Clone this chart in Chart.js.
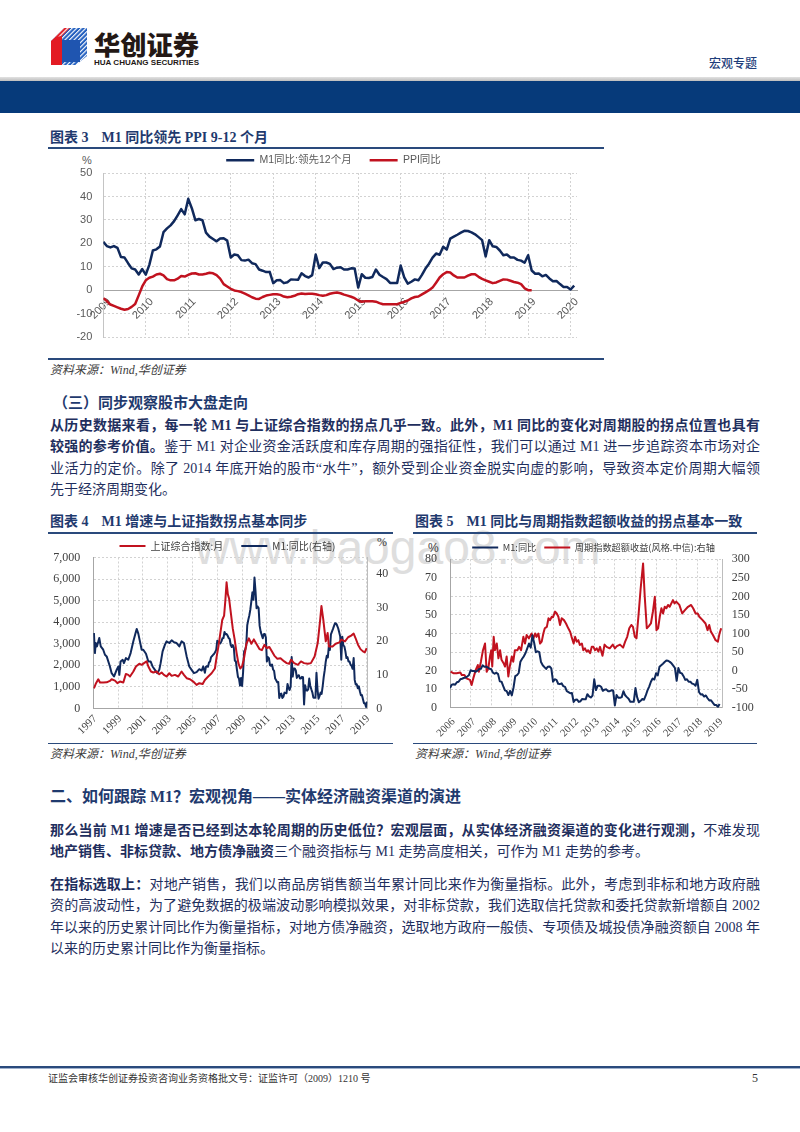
<!DOCTYPE html>
<html lang="zh-CN">
<head>
<meta charset="utf-8">
<title>M1 宏观专题</title>
<script src="https://cdn.jsdelivr.net/npm/chart.js@4.4.1/dist/chart.umd.min.js"></script>
<style>
  html, body { margin:0; padding:0; background:#fff; }
  body { position:relative; width:800px; height:1132px; overflow:hidden;
         font-family:"Liberation Serif","Noto Sans CJK SC",serif; color:#1f2f5e; }
  .a { position:absolute; white-space:nowrap; }
  .title { font-weight:700; font-size:14px; line-height:18px; color:#1f3a6e; }
  .rule { position:absolute; background:#2a4a7c; }
  .src { font-size:12px; line-height:14px; font-style:italic; color:#3c3c3c; }
  .ln { position:absolute; left:50px; width:710px; font-size:14px; line-height:21px; color:#1f2f5e; }
  .j { text-align:justify; text-align-last:justify; }
  .b { font-weight:700; }
  canvas { position:absolute; }
  .wm { position:absolute; left:195px; top:524px; font-family:"Liberation Sans",Arial,sans-serif;
        font-size:48px; line-height:48px; color:#d6d6d6; opacity:0.8; white-space:nowrap; }
</style>
</head>
<body>

<!-- header -->
<svg class="a" style="left:0;top:0" width="240" height="72" xmlns="http://www.w3.org/2000/svg">
  <defs>
    <pattern id="stB" width="3.2" height="3.2" patternUnits="userSpaceOnUse" patternTransform="rotate(45)">
      <rect width="3.2" height="3.2" fill="#2460bf"/><rect width="1.1" height="3.2" fill="#ffffff"/>
    </pattern>
    <pattern id="stR" width="3.2" height="3.2" patternUnits="userSpaceOnUse" patternTransform="rotate(45)">
      <rect width="3.2" height="3.2" fill="#e31b23"/><rect width="1.1" height="3.2" fill="#ffffff"/>
    </pattern>
  </defs>
  <polygon points="51,41 64,28 87,28 87,56 76,65 51,65" fill="url(#stB)"/>
  <polygon points="51,41 62,31 62,65 51,65" fill="#e31b23"/>
  <polygon points="55,37 64,28 70,28 62,36" fill="url(#stR)"/>
  <polygon points="62,40 80,40 80,62 62,62" fill="#1f55b0"/>
  <text x="94" y="55" font-family="Noto Sans CJK SC" font-weight="900" font-size="26" fill="#231815" textLength="105" lengthAdjust="spacingAndGlyphs">华创证券</text>
  <text x="94" y="64.5" font-family="Liberation Sans Narrow, Liberation Sans" font-weight="700" font-size="7.6" fill="#231815" textLength="105" lengthAdjust="spacingAndGlyphs">HUA CHUANG SECURITIES</text>
</svg>
<div class="a" style="left:709px;top:55px;font-family:'Noto Sans CJK SC';font-size:12px;line-height:16px;color:#1e3e7b;font-weight:500;">宏观专题</div>
<div class="a" style="left:0;top:77px;width:800px;height:4px;background:linear-gradient(#e2e2e2,#bdbdbd);"></div>
<div class="a" style="left:0;top:81px;width:800px;height:32px;background:#063a7a;"></div>

<!-- chart 3 -->
<div class="a title" style="left:50px;top:129px;">图表 3<span style="margin-left:13px">M1 同比领先 PPI 9-12 个月</span></div>
<div class="rule" style="left:48px;top:147px;width:556px;height:2px;"></div>
<div class="a" style="left:82px;top:153px;font-family:'Liberation Sans';font-size:11px;line-height:14px;color:#595959;">%</div>
<canvas id="c3" width="545" height="218" style="left:60px;top:137px;"></canvas>
<div class="rule" style="left:48px;top:358px;width:556px;height:1.5px;"></div>
<div class="a src" style="left:50px;top:363px;">资料来源：Wind,华创证券</div>

<!-- section 三 -->
<div class="a b" style="left:53px;top:393px;font-size:15px;line-height:20px;color:#1f3a6e;">（三）同步观察股市大盘走向</div>
<div class="ln j b" style="top:414.5px;">从历史数据来看，每一轮 M1 与上证综合指数的拐点几乎一致。此外，M1 同比的变化对周期股的拐点位置也具有</div>
<div class="ln j" style="top:436px;"><span class="b">较强的参考价值。</span>鉴于 M1 对企业资金活跃度和库存周期的强指征性，我们可以通过 M1 进一步追踪资本市场对企</div>
<div class="ln j" style="top:457.5px;">业活力的定价。除了 2014 年底开始的股市“水牛”，额外受到企业资金脱实向虚的影响，导致资本定价周期大幅领</div>
<div class="ln" style="top:479px;">先于经济周期变化。</div>

<!-- watermark -->
<div class="wm">www.baogao8.com</div>

<!-- chart 4 -->
<div class="a title" style="left:50px;top:512.7px;">图表 4<span style="margin-left:13px">M1 增速与上证指数拐点基本同步</span></div>
<div class="rule" style="left:48px;top:532px;width:345px;height:2px;"></div>
<div class="a" style="left:377px;top:535px;font-family:'Liberation Serif';font-size:12px;line-height:14px;color:#404040;">%</div>
<canvas id="c4" width="347" height="217" style="left:48px;top:523px;"></canvas>
<div class="rule" style="left:48px;top:742.5px;width:345px;height:1.5px;"></div>
<div class="a src" style="left:50px;top:747px;">资料来源：Wind,华创证券</div>

<!-- chart 5 -->
<div class="a title" style="left:415px;top:512.7px;">图表 5<span style="margin-left:13px">M1 同比与周期指数超额收益的拐点基本一致</span></div>
<div class="rule" style="left:413px;top:532px;width:344px;height:2px;"></div>
<div class="a" style="left:428px;top:541px;font-family:'Liberation Sans';font-size:12px;line-height:14px;color:#404040;">%</div>
<canvas id="c5" width="344" height="205" style="left:413px;top:535px;"></canvas>
<div class="rule" style="left:413px;top:742.5px;width:344px;height:1.5px;"></div>
<div class="a src" style="left:415px;top:747px;">资料来源：Wind,华创证券</div>

<!-- section 二 -->
<div class="a b" style="left:50px;top:786px;font-size:16px;line-height:22px;color:#1f3a6e;">二、如何跟踪 M1？宏观视角——实体经济融资渠道的演进</div>
<div class="ln j" style="top:819.5px;"><span class="b">那么当前 M1 增速是否已经到达本轮周期的历史低位？宏观层面，从实体经济融资渠道的变化进行观测，</span>不难发现</div>
<div class="ln" style="top:841px;"><span class="b">地产销售、非标贷款、地方债净融资</span>三个融资指标与 M1 走势高度相关，可作为 M1 走势的参考。</div>
<div class="ln j" style="top:873.5px;"><span class="b">在指标选取上：</span>对地产销售，我们以商品房销售额当年累计同比来作为衡量指标。此外，考虑到非标和地方政府融</div>
<div class="ln j" style="top:895px;">资的高波动性，为了避免数据的极端波动影响模拟效果，对非标贷款，我们选取信托贷款和委托贷款新增额自 2002</div>
<div class="ln j" style="top:916.5px;">年以来的历史累计同比作为衡量指标，对地方债净融资，选取地方政府一般债、专项债及城投债净融资额自 2008 年</div>
<div class="ln" style="top:938px;">以来的历史累计同比作为衡量指标。</div>

<!-- footer -->
<div class="a" style="left:0;top:1066px;width:800px;height:2px;background:#2a4a7c;"></div>
<div class="a" style="left:0;top:1068px;width:800px;height:1px;background:#9fb0cc;"></div>
<div class="a" style="left:48px;top:1072px;font-size:10px;line-height:14px;color:#333;">证监会审核华创证券投资咨询业务资格批文号：证监许可（2009）1210 号</div>
<div class="a" style="left:752px;top:1071px;font-size:12px;line-height:15px;color:#333;">5</div>

<script>
// ---------------- DATA ----------------
// M1 同比 (%), monthly 2006-01 .. 2019-02
const m1Yoy = [
  10.6,12.4,12.6,12.4,13.7,14.0,15.3,15.6,16.0,16.3,16.8,17.5,
  20.2,19.8,19.8,19.4,20.0,20.9,21.0,22.8,22.1,22.2,21.7,21.0,
  20.7,18.9,18.3,18.9,18.1,14.2,14.0,11.6,9.4,8.9,6.8,9.1,
  6.7,10.9,17.0,17.5,18.7,24.8,26.4,27.7,29.5,32.0,34.6,32.4,
  39.0,35.0,29.9,30.4,29.9,24.6,22.9,21.9,20.9,22.1,22.2,21.2,
  14.0,15.3,15.0,12.9,12.7,13.1,11.6,11.2,8.9,8.4,7.8,7.9,
  3.1,4.3,4.4,3.1,3.5,4.7,4.6,4.5,7.3,6.1,5.5,6.5,
  15.3,9.5,11.9,11.9,11.3,9.1,9.7,9.9,8.9,8.9,9.4,9.3,
  1.2,6.9,5.4,5.3,5.7,8.9,6.7,5.7,4.8,3.2,3.2,3.2,
  10.6,5.6,2.9,3.7,4.7,4.3,6.6,9.3,11.4,14.0,15.7,15.2,
  18.6,17.4,22.1,22.9,23.7,24.6,25.4,25.3,24.7,23.9,22.7,21.4,
  14.5,21.4,18.8,18.5,17.0,15.0,15.3,14.0,14.0,13.0,12.7,11.8,
  15.0,8.5,7.1,7.2,6.0,6.6,5.1,3.9,4.0,2.7,1.5,1.5,
  0.4,2.0
];
const m1Start = 2006;

// PPI 同比 (%), monthly 2009-01 .. 2019-02
const ppiYoy = [
  -3.3,-4.5,-6.0,-6.6,-7.2,-7.8,-8.2,-7.9,-7.0,-5.8,-2.1,1.7,
  4.3,5.4,5.9,6.8,7.1,6.4,4.8,4.3,4.3,5.0,6.1,5.9,
  6.6,7.2,7.3,6.8,6.8,7.1,7.5,7.3,6.5,5.0,2.7,1.7,
  0.7,0.0,-0.3,-0.7,-1.4,-2.1,-2.9,-3.5,-3.6,-2.8,-2.2,-1.9,
  -1.6,-1.6,-1.9,-2.6,-2.9,-2.7,-2.3,-1.6,-1.3,-1.5,-1.4,-1.4,
  -1.6,-2.0,-2.3,-2.0,-1.4,-1.1,-0.9,-1.2,-1.8,-2.2,-2.7,-3.3,
  -4.3,-4.8,-4.6,-4.6,-4.6,-4.8,-5.4,-5.9,-5.9,-5.9,-5.9,-5.9,
  -5.3,-4.9,-4.3,-3.4,-2.8,-2.6,-1.7,-0.8,0.1,1.2,3.3,5.5,
  6.9,7.8,7.6,6.4,5.5,5.5,5.5,6.3,6.9,6.9,5.8,4.9,
  4.3,3.7,3.1,3.4,4.1,4.7,4.6,4.1,3.6,3.3,2.7,0.9,
  0.1,0.1
];
const ppiStart = 2009;
const leadStart = 2009;          // M1 (from 2008-01) shifted ahead by 12 months
const leadFromIndex = 24;        // index of 2008-01 in m1Yoy

// M1 同比 1997-2005 (chart 4, right axis)
const m1EarlyDates = [1997.05,1997.13,1997.2,1997.3,1997.48,1997.6,1997.8,1997.94,1998.08,1998.34,
  1998.48,1998.67,1998.88,1999.02,1999.1,1999.2,1999.37,1999.47,1999.63,1999.82,
  2000.01,2000.23,2000.41,2000.5,2000.63,2000.76,2000.9,2001.03,2001.25,2001.44,
  2001.62,2001.78,2001.97,2002.16,2002.32,2002.43,2002.59,2002.78,2002.91,2003.13,
  2003.32,2003.51,2003.72,2003.94,2004.12,2004.31,2004.53,2004.74,2004.93,2005.12,
  2005.33,2005.55,2005.74,2005.87];
const m1EarlyValues = [22.5,16.5,19.5,18.5,21,18.5,17.5,16,15.5,12.5,
  10.5,9.5,11.5,12.5,10,14,14.5,13.5,15,14.5,
  16.5,20,22.5,23.7,22.3,20,17.5,17.5,16.3,14,
  14,12.5,11.5,10.5,11.5,13.5,17,19,20,19.5,
  20.3,19.7,19.5,18.5,20,19.5,15.5,12.5,11.5,10.5,
  10.8,11.7,11.3,12.5];

// 上证综合指数:月 (chart 4, left axis)
const shDates = [1997.05,1997.22,1997.40,1997.54,1997.80,1998.08,1998.34,1998.48,1998.75,1998.94,
  1999.15,1999.42,1999.63,1999.82,1999.96,2000.23,2000.44,2000.71,2000.90,2001.09,
  2001.30,2001.44,2001.65,2001.84,2002.11,2002.32,2002.51,2002.70,2002.91,2003.13,
  2003.32,2003.59,2003.85,2004.12,2004.31,2004.53,2004.80,2005.06,2005.33,2005.55,
  2005.82,2006.00,2006.27,2006.54,2006.81,2006.95,2007.10,2007.25,2007.40,2007.55,
  2007.65,2007.75,2007.85,2007.95,2008.10,2008.25,2008.40,2008.55,2008.70,2008.85,
  2009.00,2009.15,2009.35,2009.55,2009.75,2009.95,2010.20,2010.40,2010.60,2010.80,
  2011.00,2011.20,2011.40,2011.60,2011.85,2012.10,2012.40,2012.60,2012.80,2012.95,
  2013.20,2013.50,2013.75,2014.00,2014.30,2014.55,2014.85,2015.10,2015.30,2015.40,
  2015.55,2015.75,2015.90,2016.00,2016.30,2016.55,2016.85,2017.00,2017.30,2017.55,
  2017.80,2018.00,2018.15,2018.35,2018.55,2018.75,2018.90,2019.05];
const shValues = [930,1170,1350,1200,1200,1210,1275,1350,1290,1170,
  1245,1200,1600,1555,1480,1710,1945,2070,2020,2100,
  2180,1945,1710,1665,1710,1585,1665,1555,1480,1630,
  1510,1555,1480,1710,1555,1400,1350,1245,1090,1170,
  1135,1320,1480,1630,1850,2400,2900,3500,4100,4300,
  5000,5850,5300,5100,4400,3700,3200,2600,2100,1850,
  1950,2300,3000,3250,3000,3200,2950,2750,2700,2950,
  2800,2850,2650,2450,2300,2330,2180,2100,2070,2255,
  2100,2020,2180,2100,2070,2100,2410,3030,4120,4750,
  4120,3110,3500,2875,2875,3000,3065,3190,3110,3300,
  3375,3470,3265,2955,2750,2645,2600,2800];

// 周期指数超额收益(风格.中信) (chart 5, right axis)
const cycDates = [2006.03,2006.16,2006.32,2006.50,2006.57,2006.70,2006.80,2006.97,2007.05,2007.13,
  2007.25,2007.35,2007.40,2007.50,2007.60,2007.70,2007.78,2007.86,2007.94,2008.00,
  2008.05,2008.12,2008.18,2008.27,2008.35,2008.43,2008.50,2008.60,2008.67,2008.75,
  2008.83,2008.90,2009.00,2009.07,2009.15,2009.27,2009.35,2009.45,2009.56,2009.64,
  2009.72,2009.83,2009.96,2010.05,2010.13,2010.20,2010.29,2010.37,2010.45,2010.53,
  2010.60,2010.70,2010.78,2010.85,2010.94,2011.00,2011.10,2011.18,2011.26,2011.34,
  2011.42,2011.53,2011.63,2011.74,2011.83,2011.90,2012.00,2012.07,2012.15,2012.23,
  2012.30,2012.40,2012.47,2012.55,2012.63,2012.70,2012.80,2012.88,2012.96,2013.04,
  2013.12,2013.20,2013.28,2013.40,2013.50,2013.60,2013.75,2013.90,2014.00,2014.10,
  2014.25,2014.40,2014.50,2014.60,2014.70,2014.80,2014.88,2014.97,2015.05,2015.15,
  2015.25,2015.37,2015.45,2015.55,2015.65,2015.75,2015.85,2015.94,2016.02,2016.10,
  2016.18,2016.26,2016.34,2016.42,2016.50,2016.58,2016.66,2016.82,2016.90,2016.98,
  2017.13,2017.27,2017.40,2017.55,2017.70,2017.80,2017.92,2018.02,2018.10,2018.26,
  2018.40,2018.50,2018.58,2018.66,2018.76,2018.89,2019.00,2019.08,2019.16];
const cycValues = [-3,-7,-7,-5,-12,-12,-21,-25,-39,-21,
  2,15,-3,24,55,73,-3,6,38,55,
  11,91,55,73,33,55,29,20,11,38,
  -16,11,38,24,55,55,64,55,91,73,
  96,87,100,87,100,91,100,73,78,100,
  114,118,141,136,145,144,159,154,145,123,
  141,136,127,114,105,91,73,91,78,82,
  69,73,55,60,51,55,47,64,64,55,
  60,51,64,40,70,64,60,70,60,66,
  70,62,78,91,114,123,118,91,87,150,
  220,289,200,114,120,127,160,199,109,114,
  145,168,154,172,168,177,172,190,181,186,
  177,154,163,172,177,168,154,154,145,136,
  127,109,123,105,96,82,78,100,114];

// tick labels
const years3 = [2009,2010,2011,2012,2013,2014,2015,2016,2017,2018,2019,2020];
const years4 = [1997,1999,2001,2003,2005,2007,2009,2011,2013,2015,2017,2019];
const years5 = [2006,2007,2008,2009,2010,2011,2012,2013,2014,2015,2016,2017,2018,2019];

// ---------------- HELPERS ----------------
const NAVY = '#10295c', RED = '#c1121f';
const SANS = "'Liberation Sans','Noto Sans CJK SC',sans-serif";
const SERIF = "'Liberation Serif','Noto Sans CJK SC',serif";
const CJK = "'Noto Sans CJK SC','Liberation Sans',sans-serif";
const GRID = '#d2d2d2';

const monthly = (arr, start) => arr.map((v, i) => ({ x: start + i / 12, y: v }));
const paired = (xs, ys) => xs.slice(0, Math.min(xs.length, ys.length)).map((x, i) => ({ x, y: ys[i] }));
const setTicks = list => (s => { s.ticks = list.map(v => ({ value: v })); });

// small legend tweaks: trim box height, shift horizontally
(function () {
  const L = Chart.Legend && Chart.Legend._element;
  if (L && L.prototype && L.prototype.fit) {
    const origFit = L.prototype.fit;
    L.prototype.fit = function () {
      origFit.apply(this, arguments);
      const adj = this.options && this.options.heightAdjust;
      if (typeof adj === 'number' && this.isHorizontal()) this.height = Math.max(0, this.height + adj);
    };
    const origDraw = L.prototype.draw;
    L.prototype.draw = function () {
      const dx = this.options && this.options.shiftX;
      if (typeof dx === 'number' && dx) {
        const ctx = this.ctx;
        ctx.save(); ctx.translate(dx, 0);
        origDraw.apply(this, arguments);
        ctx.restore();
      } else {
        origDraw.apply(this, arguments);
      }
    };
  }
})();

const lineDs = (label, data, color, width, axis) => ({
  label, data, borderColor: color, backgroundColor: color, borderWidth: width,
  pointRadius: 0, tension: 0, borderJoinStyle: 'round', yAxisID: axis || 'y', fill: false
});

const legendOpts = (adj, dx, pad, color, family, size, w) => ({
  display: true, position: 'top', heightAdjust: adj, shiftX: dx,
  labels: { usePointStyle: true, pointStyle: 'line', pointStyleWidth: w, padding: pad,
            color, font: { family, size } }
});

const base = { responsive: false, animation: false, events: [], locale: 'en-US' };

// ---------------- CHART 3 ----------------
new Chart(document.getElementById('c3'), {
  type: 'line',
  data: { datasets: [
    lineDs('M1同比:领先12个月', monthly(m1Yoy.slice(leadFromIndex), leadStart), NAVY, 2.5),
    lineDs('PPI同比', monthly(ppiYoy, ppiStart), RED, 2.5)
  ]},
  options: Object.assign({}, base, {
    layout: { padding: { left: 0, right: 28, top: 0, bottom: 12 } },
    plugins: { legend: legendOpts(-2.5, 15, 18, '#595959', SANS, 10.5, 28), tooltip: { enabled: false } },
    scales: {
      x: { type: 'linear', position: { y: 0 }, min: 2009, max: 2020.15,
           afterBuildTicks: setTicks(years3),
           grid: { color: GRID, lineWidth: 1, drawTicks: false },
           border: { display: true, color: '#a6a6a6', width: 1, dash: [2, 2] },
           ticks: { autoSkip: false, minRotation: 45, maxRotation: 45, padding: 5, labelOffset: 6,
                    color: '#595959', font: { family: SANS, size: 11 }, callback: v => String(v) } },
      y: { type: 'linear', position: 'left', min: -20, max: 50,
           afterFit: s => { s.width = 43.3; },
           grid: { color: GRID, lineWidth: 1, drawTicks: false },
           border: { display: true, color: '#c4c4c4', width: 1, dash: [2, 2] },
           ticks: { stepSize: 10, padding: 11, color: '#595959', font: { family: SANS, size: 11 } } }
    }
  })
});

// ---------------- CHART 4 ----------------
new Chart(document.getElementById('c4'), {
  type: 'line',
  data: { datasets: [
    lineDs('上证综合指数:月', paired(shDates, shValues), RED, 2, 'y'),
    lineDs('M1:同比(右轴)', paired(m1EarlyDates, m1EarlyValues).concat(monthly(m1Yoy, m1Start)), NAVY, 2, 'y1')
  ]},
  options: Object.assign({}, base, {
    layout: { padding: { left: 0, right: 0, top: 0, bottom: 0 } },
    plugins: { legend: legendOpts(-3.5, 6, 18, '#404040', CJK, 10, 26), tooltip: { enabled: false } },
    scales: {
      x: { type: 'linear', position: 'bottom', min: 1997, max: 2019.1,
           afterBuildTicks: setTicks(years4),
           afterFit: s => { s.height = 31.6; },
           grid: { color: GRID, lineWidth: 1, drawTicks: false },
           border: { display: true, color: '#a6a6a6', width: 1, dash: [2, 2] },
           ticks: { autoSkip: false, minRotation: 45, maxRotation: 45, padding: 4, labelOffset: 2,
                    color: '#404040', font: { family: SERIF, size: 11 }, callback: v => String(v) } },
      y: { type: 'linear', position: 'left', min: 0, max: 7000,
           afterFit: s => { s.width = 45.3; },
           grid: { color: GRID, lineWidth: 1, drawTicks: false },
           border: { display: true, color: '#a6a6a6', width: 1, dash: [2, 2] },
           ticks: { stepSize: 1000, padding: 13, color: '#404040', font: { family: SERIF, size: 12 } } },
      y1: { type: 'linear', position: 'right', min: 0, max: 45,
            afterFit: s => { s.width = 27.7; },
            grid: { display: false, drawTicks: false },
            border: { display: true, color: '#bdbdbd', width: 1 },
            ticks: { stepSize: 5, padding: 9, color: '#404040', font: { family: SERIF, size: 12 } } }
    }
  })
});

// ---------------- CHART 5 ----------------
new Chart(document.getElementById('c5'), {
  type: 'line',
  data: { datasets: [
    lineDs('M1:同比', monthly(m1Yoy, m1Start), NAVY, 2, 'y'),
    lineDs('周期指数超额收益(风格.中信):右轴', paired(cycDates, cycValues), RED, 2, 'y1')
  ]},
  options: Object.assign({}, base, {
    layout: { padding: { left: 0, right: 0, top: 0, bottom: 0 } },
    plugins: { legend: legendOpts(-2.9, 8.5, 8, '#404040', CJK, 9.2, 26), tooltip: { enabled: false } },
    scales: {
      x: { type: 'linear', position: 'bottom', min: 2006, max: 2019.2,
           afterBuildTicks: setTicks(years5),
           afterFit: s => { s.height = 32.3; },
           grid: { color: GRID, lineWidth: 1, drawTicks: false },
           border: { display: true, color: '#a6a6a6', width: 1, dash: [2, 2] },
           ticks: { autoSkip: false, minRotation: 45, maxRotation: 45, padding: 8, labelOffset: 3.5,
                    color: '#404040', font: { family: SERIF, size: 10.5 }, callback: v => String(v) } },
      y: { type: 'linear', position: 'left', min: 0, max: 80,
           afterFit: s => { s.width = 37; },
           grid: { color: GRID, lineWidth: 1, drawTicks: false },
           border: { display: true, color: '#a6a6a6', width: 1, dash: [2, 2] },
           ticks: { stepSize: 10, padding: 13, color: '#404040', font: { family: SERIF, size: 12 } } },
      y1: { type: 'linear', position: 'right', min: -100, max: 300,
            afterFit: s => { s.width = 35; },
            grid: { display: false, drawTicks: false },
            border: { display: true, color: '#bdbdbd', width: 1 },
            ticks: { stepSize: 50, padding: 9.7, color: '#404040', font: { family: SERIF, size: 12 } } }
    }
  })
});
</script>
</body>
</html>
